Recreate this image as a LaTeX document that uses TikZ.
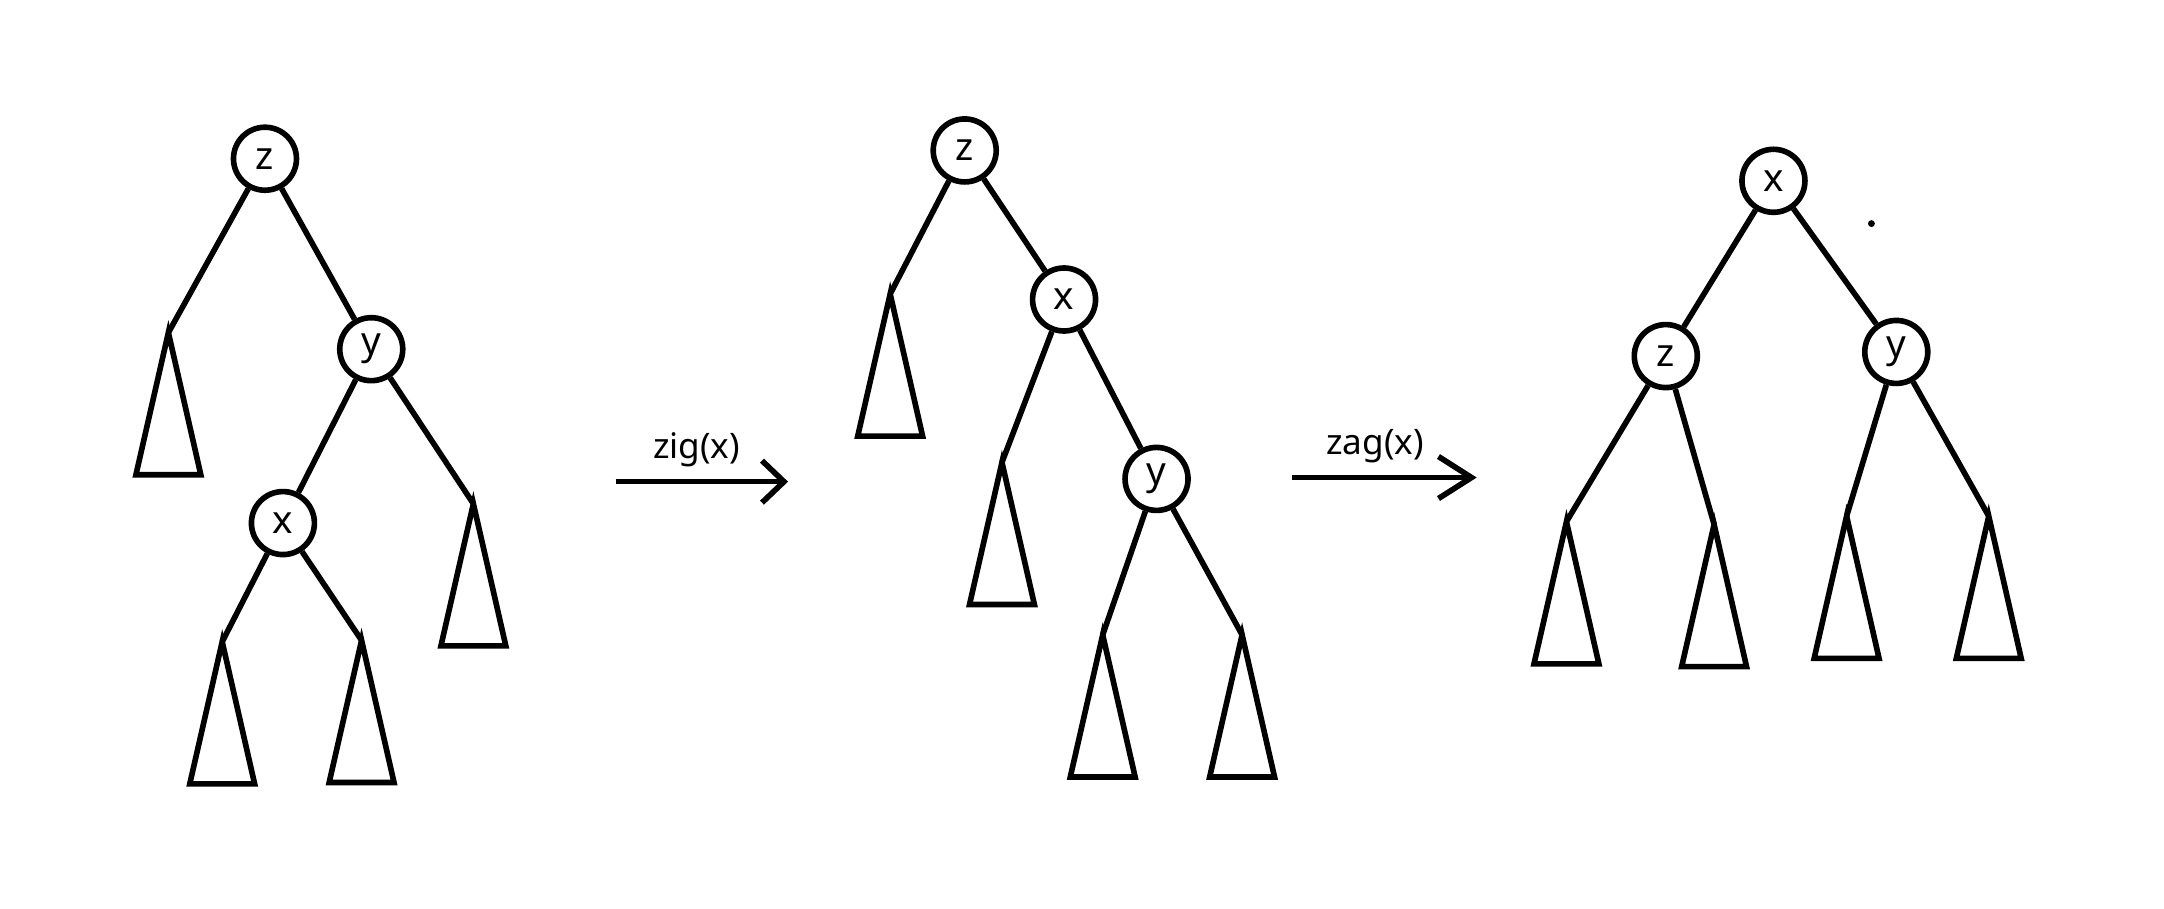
\documentclass[tikz,border=0pt]{standalone}
\usepackage{fontspec}
\setmainfont{Noto Sans}
\usepackage{tikz}
\usetikzlibrary{arrows.meta}

\begin{document}
\begin{tikzpicture}[
    x=1.38cm, y=-1.38cm,
    vertex/.style={circle, draw, fill=white, line width=1.6pt, minimum size=6.3mm, inner sep=0pt, font=\fontsize{11}{13}\selectfont},
    edge/.style={line width=1.6pt},
    rot/.style={line width=1.6pt, -{Straight Barb[length=#1, width=4.2mm, line width=1.6pt]}},
    subtree/.pic={\draw[line width=1.6pt] (0,0) -- (-0.235,1.03) -- (0.235,1.03) -- cycle;}
]
    \useasboundingbox (0,0) rectangle (15.68,6.58);

    % Tree before rotation
    \node[vertex] (z1) at (1.92,1.15) {z};
    \node[vertex] (y1) at (2.69,2.53) {y};
    \node[vertex] (x1) at (2.05,3.79) {x};
    \coordinate (t1) at (1.22,2.41);
    \coordinate (t2) at (3.43,3.65);
    \coordinate (t3) at (1.61,4.65);
    \coordinate (t4) at (2.62,4.64);
    \pic at (t1) {subtree};
    \pic at (t2) {subtree};
    \pic at (t3) {subtree};
    \pic at (t4) {subtree};
    \draw[edge] (z1) -- (t1);
    \draw[edge] (z1) -- (y1);
    \draw[edge] (y1) -- (x1);
    \draw[edge] (y1) -- (t2);
    \draw[edge] (x1) -- (t3);
    \draw[edge] (x1) -- (t4);

    % After zig(x)
    \node[vertex] (z2) at (6.99,1.09) {z};
    \node[vertex] (x2) at (7.71,2.17) {x};
    \node[vertex] (y2) at (8.38,3.47) {y};
    \coordinate (t5) at (6.45,2.13);
    \coordinate (t6) at (7.26,3.35);
    \coordinate (t7) at (7.99,4.60);
    \coordinate (t8) at (9.00,4.60);
    \pic at (t5) {subtree};
    \pic at (t6) {subtree};
    \pic at (t7) {subtree};
    \pic at (t8) {subtree};
    \draw[edge] (z2) -- (t5);
    \draw[edge] (z2) -- (x2);
    \draw[edge] (x2) -- (t6);
    \draw[edge] (x2) -- (y2);
    \draw[edge] (y2) -- (t7);
    \draw[edge] (y2) -- (t8);

    % After zag(x)
    \node[vertex] (x3) at (12.85,1.31) {x};
    \node[vertex] (z3) at (12.07,2.58) {z};
    \node[vertex] (y3) at (13.74,2.55) {y};
    \coordinate (t9) at (11.35,3.78);
    \coordinate (t10) at (12.42,3.80);
    \coordinate (t11) at (13.38,3.74);
    \coordinate (t12) at (14.41,3.74);
    \pic at (t9) {subtree};
    \pic at (t10) {subtree};
    \pic at (t11) {subtree};
    \pic at (t12) {subtree};
    \draw[edge] (x3) -- (z3);
    \draw[edge] (x3) -- (y3);
    \draw[edge] (z3) -- (t9);
    \draw[edge] (z3) -- (t10);
    \draw[edge] (y3) -- (t11);
    \draw[edge] (y3) -- (t12);
    \coordinate (dot) at (13.56,1.62);
    \fill (dot) circle (0.025);

    % Rotation arrows
    \coordinate (a1s) at (4.46,3.49);
    \coordinate (a1e) at (5.71,3.49);
    \coordinate (a2s) at (9.36,3.46);
    \coordinate (a2e) at (10.70,3.46);
    \draw[rot=2.2mm] (a1s) -- node[above, pos=0.47] {zig(x)} (a1e);
    \draw[rot=3.3mm] (a2s) -- node[above, pos=0.45] {zag(x)} (a2e);
\end{tikzpicture}
\end{document}
